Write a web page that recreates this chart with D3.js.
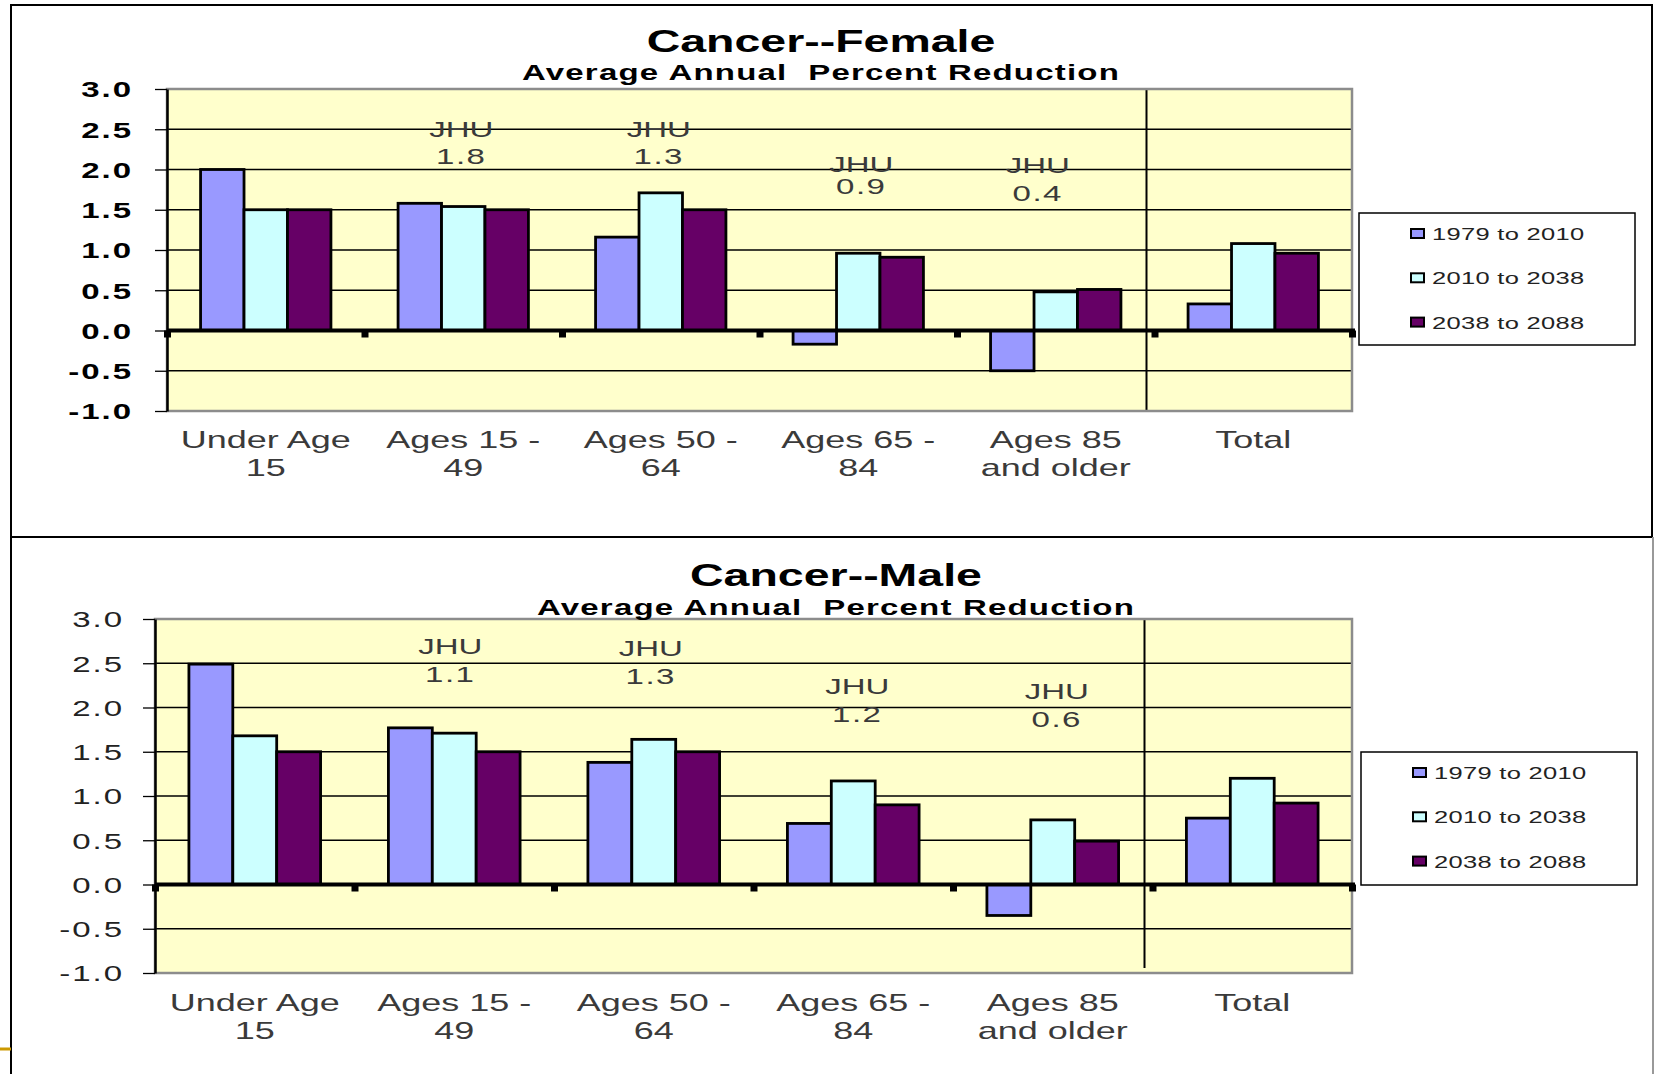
<!DOCTYPE html>
<html>
<head>
<meta charset="utf-8">
<script src="https://cdn.jsdelivr.net/npm/d3@7"></script>
<style>
  body { margin: 0; background: #fff; }
  svg text { font-family: "Liberation Sans", Arial, sans-serif; }
</style>
</head>
<body>
<div id="chart"></div>
<script>
// categories and series
const categories = ["Under Age\n15", "Ages 15 -\n49", "Ages 50 -\n64", "Ages 65 -\n84", "Ages 85\nand older", "Total"];
const seriesNames = ["1979 to 2010", "2010 to 2038", "2038 to 2088"];
const seriesColors = ["#9999ff", "#ccffff", "#660066"];
const yTicks = [-1, -0.5, 0, 0.5, 1, 1.5, 2, 2.5, 3];

const female1979 = [2.0, 1.58, 1.16, -0.17, -0.5, 0.33];
const female2010 = [1.5, 1.54, 1.71, 0.96, 0.48, 1.08];
const female2038 = [1.5, 1.5, 1.5, 0.91, 0.51, 0.96];
const femaleJHU = [null, 1.8, 1.3, 0.9, 0.4, null];

const male1979 = [2.49, 1.77, 1.38, 0.69, -0.35, 0.75];
const male2010 = [1.68, 1.71, 1.64, 1.17, 0.73, 1.2];
const male2038 = [1.5, 1.5, 1.5, 0.9, 0.49, 0.92];
const maleJHU = [null, 1.1, 1.3, 1.2, 0.6, null];

const W = 1656, H = 1074;
const SX = 1.5;   // the source bitmap is stretched sideways

const svg = d3.select("#chart").append("svg")
    .attr("width", W)
    .attr("height", H);

function stext(parent, x, y, str, size, opts) {
  opts = opts || {};
  return parent.append("text")
      .attr("transform", `translate(${x},${y}) scale(${SX},1)`)
      .attr("text-anchor", opts.anchor || "middle")
      .attr("font-size", size)
      .attr("font-weight", opts.bold ? "bold" : null)
      .attr("letter-spacing", opts.ls || null)
      .attr("fill", opts.fill || "#000")
      .style("white-space", "pre")
      .text(str);
}

// panel frames
svg.append("rect")
    .attr("x", 11).attr("y", 5).attr("width", 1641).attr("height", 532)
    .attr("fill", "none").attr("stroke", "#000").attr("stroke-width", 2);
svg.append("path")
    .attr("d", "M11,537 V1074 M11,537 H1653")
    .attr("fill", "none").attr("stroke", "#000").attr("stroke-width", 2);
svg.append("path")
    .attr("d", "M1653,537 V1074")
    .attr("stroke", "#999").attr("stroke-width", 2);
svg.append("line")
    .attr("x1", 0).attr("x2", 11).attr("y1", 1049).attr("y2", 1049)
    .attr("stroke", "#cc9900").attr("stroke-width", 3);

function drawChart(c) {
  const g = svg.append("g");

  const x = d3.scaleBand()
      .domain(categories)
      .range([c.left, c.right])
      .paddingInner(0.34)
      .paddingOuter(0.17);
  const xs = d3.scaleBand().domain(seriesNames).range([0, x.bandwidth()]);
  const y = d3.scaleLinear().domain([-1, 3]).range([c.bottom, c.top]);
  const edge = d => x(d) - x.step() * x.paddingInner() / 2;

  // plot background and grid
  g.append("rect")
      .attr("x", c.left).attr("y", c.top)
      .attr("width", c.right - c.left).attr("height", c.bottom - c.top)
      .attr("fill", "#ffffcc");

  g.append("g").selectAll("line")
    .data(yTicks)
    .join("line")
      .attr("x1", c.left).attr("x2", c.right)
      .attr("y1", d => y(d)).attr("y2", d => y(d))
      .attr("stroke", "#000").attr("stroke-width", 1.3);

  // separator before Total
  g.append("line")
      .attr("x1", edge("Total") - 8).attr("x2", edge("Total") - 8)
      .attr("y1", c.top).attr("y2", c.sepBottom)
      .attr("stroke", "#000").attr("stroke-width", 2);

  // bars
  const bars = g.append("g");
  c.series.forEach((vals, si) => {
    bars.selectAll(null)
      .data(vals.map((v, i) => ({ v: v, cat: categories[i] })))
      .join("rect")
        .attr("x", d => x(d.cat) + xs(seriesNames[si]))
        .attr("y", d => y(Math.max(0, d.v)))
        .attr("width", xs.bandwidth())
        .attr("height", d => Math.abs(y(d.v) - y(0)))
        .attr("fill", seriesColors[si])
        .attr("stroke", "#000")
        .attr("stroke-width", 2.8);
  });

  // plot border
  g.append("rect")
      .attr("x", c.left).attr("y", c.top)
      .attr("width", c.right - c.left).attr("height", c.bottom - c.top)
      .attr("fill", "none").attr("stroke", "#8c8c8c").attr("stroke-width", 2.5);

  // zero line with category tick marks
  g.append("line")
      .attr("x1", c.left).attr("x2", c.right + 3)
      .attr("y1", y(0)).attr("y2", y(0))
      .attr("stroke", "#000").attr("stroke-width", 4);
  const edges = categories.map(edge).concat([c.right]);
  g.append("g").selectAll("rect")
    .data(edges)
    .join("rect")
      .attr("x", d => d - 3).attr("y", y(0))
      .attr("width", 7).attr("height", 7)
      .attr("fill", "#000");

  // y axis
  const ya = g.append("g")
      .attr("transform", `translate(${c.left},0)`)
      .call(d3.axisLeft(y).tickValues(yTicks).tickSize(12).tickSizeOuter(0)
        .tickFormat(d => d.toFixed(1)));
  ya.select(".domain").attr("stroke", "#000").attr("stroke-width", 2.5);
  ya.selectAll(".tick line").attr("stroke", "#000").attr("stroke-width", 1.3);
  ya.selectAll(".tick text")
      .attr("x", 0).attr("dy", "0.36em")
      .attr("transform", `translate(${-c.labelGap},0) scale(${SX},1)`)
      .attr("font-size", 22)
      .attr("font-weight", c.boldTicks ? "bold" : null)
      .attr("letter-spacing", 1.3)
      .attr("fill", c.boldTicks ? "#000" : "#222");

  // category labels
  categories.forEach(cat => {
    cat.split("\n").forEach((line, li) => {
      stext(g, x(cat) + x.bandwidth() / 2, c.labelY + li * 28, line, 24, { fill: "#3a3a3a" });
    });
  });

  // JHU notes
  c.jhu.forEach((v, i) => {
    if (v == null) return;
    const cx = x(categories[i]) + x.bandwidth() / 2 + c.jhuDx[i];
    const cy = y(c.jhuAt[i]) + 8;
    stext(g, cx, cy, "JHU", 22, { fill: "#3a3a3a" });
    stext(g, cx, cy + c.jhuGap[i], v.toFixed(1), 22, { fill: "#3a3a3a", ls: 1 });
  });

  // titles
  stext(g, c.titleX, c.titleY, c.title, 31, { bold: true });
  stext(g, c.titleX, c.subY, "Average Annual  Percent Reduction", 22, { bold: true, ls: 0.8 });

  // legend
  const L = c.legend;
  const lg = g.append("g");
  lg.append("rect")
      .attr("x", L.x).attr("y", L.y).attr("width", L.w).attr("height", L.h)
      .attr("fill", "#fff").attr("stroke", "#000").attr("stroke-width", 1.5);
  seriesNames.forEach((name, i) => {
    const ry = L.y + 21 + i * 44.3;
    lg.append("rect")
        .attr("x", L.x + 52).attr("y", ry - 5).attr("width", 13).attr("height", 9)
        .attr("fill", seriesColors[i]).attr("stroke", "#000").attr("stroke-width", 2);
    stext(lg, L.x + 73, ry + 6, name, 17, { anchor: "start", ls: 0.2, fill: "#222" });
  });
}

drawChart({
  title: "Cancer--Female", titleX: 821, titleY: 52, subY: 80,
  left: 167, right: 1352, top: 89, bottom: 411, sepBottom: 411,
  labelGap: 34, boldTicks: true, labelY: 448,
  series: [female1979, female2010, female2038],
  jhu: femaleJHU,
  jhuAt: [null, 2.5, 2.5, 2.07, 2.05, null],
  jhuGap: [0, 27, 27, 22, 28, 0],
  jhuDx: [0, -2, -2, 3, -18, 0],
  legend: { x: 1359, y: 213, w: 276, h: 132 }
});

drawChart({
  title: "Cancer--Male", titleX: 836, titleY: 586, subY: 615,
  left: 155, right: 1352, top: 619, bottom: 973, sepBottom: 968,
  labelGap: 31, boldTicks: false, labelY: 1011,
  series: [male1979, male2010, male2038],
  jhu: maleJHU,
  jhuAt: [null, 2.69, 2.67, 2.24, 2.19, null],
  jhuGap: [0, 28, 28, 28, 28, 0],
  jhuDx: [0, -4, -3, 4, 4, 0],
  legend: { x: 1361, y: 752, w: 276, h: 133 }
});
</script>
</body>
</html>
